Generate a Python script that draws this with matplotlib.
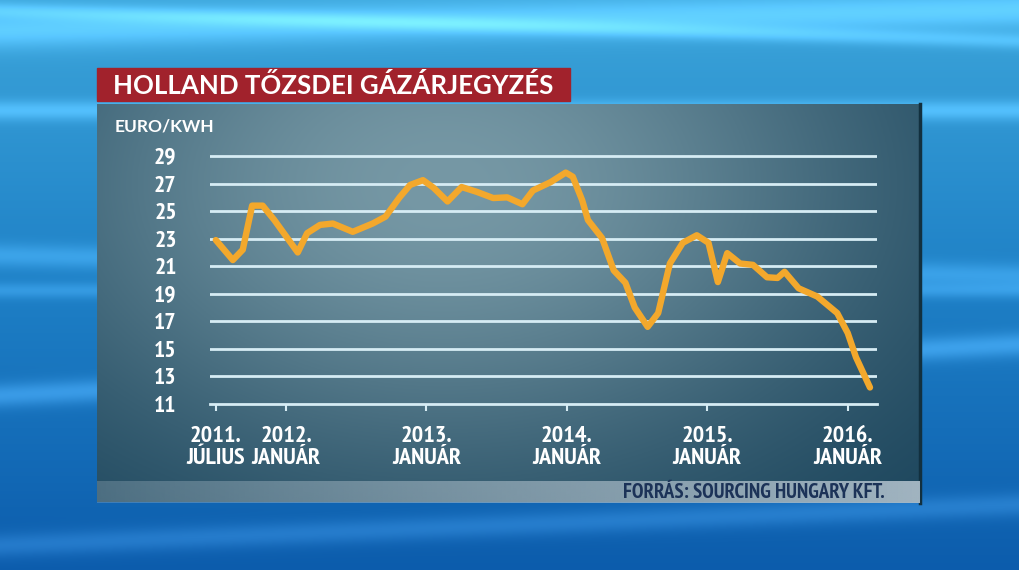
import matplotlib
matplotlib.use("Agg")
import matplotlib.pyplot as plt
import numpy as np

# data: months after 2011 July, price in euro/kWh
months = [0, 1.45, 2.3, 3.1, 4.0, 5.0, 7.0, 7.8, 8.9, 10.0, 11.7, 13.4, 14.5, 15.7,
          16.6, 17.7, 18.6, 19.8, 21.0, 22.3, 23.7, 24.9, 26.2, 27.1, 28.6, 29.9,
          30.5, 31.3, 31.8, 33.0, 34.0, 35.0, 35.8, 36.9, 37.8, 38.8, 39.9, 41.1,
          42.1, 42.9, 43.7, 44.8, 45.9, 47.1, 48.0, 48.6, 49.8, 51.4, 53.1, 54.0,
          54.7, 55.9]
price = [22.9, 21.45, 22.2, 25.4, 25.4, 24.35, 22.0, 23.4, 24.0, 24.1, 23.5, 24.1,
         24.6, 26.0, 26.9, 27.25, 26.7, 25.7, 26.75, 26.4, 25.95, 26.0, 25.5, 26.5,
         27.1, 27.8, 27.5, 25.8, 24.35, 23.05, 20.7, 19.8, 18.0, 16.6, 17.6, 21.2,
         22.7, 23.25, 22.7, 19.85, 21.95, 21.2, 21.1, 20.2, 20.15, 20.6, 19.4, 18.8,
         17.6, 16.15, 14.4, 12.2]

tick_months = [0, 6, 18, 30, 42, 54]
tick_labels = ["2011.\nJÚLIUS", "2012.\nJANUÁR", "2013.\nJANUÁR",
               "2014.\nJANUÁR", "2015.\nJANUÁR", "2016.\nJANUÁR"]
y_ticks = [11, 13, 15, 17, 19, 21, 23, 25, 27, 29]

title = "HOLLAND TŐZSDEI GÁZÁRJEGYZÉS"
unit = "EURO/KWH"
source = "FORRÁS: SOURCING HUNGARY KFT."

W, H = 1019, 570
narrow = ["PT Sans Narrow", "Roboto Condensed", "Fira Sans Condensed",
          "Archivo Narrow", "DejaVu Sans"]
head = ["Lato", "DejaVu Sans"]

fig = plt.figure(figsize=(W / 100, H / 100), dpi=100)

# backdrop, drawn in pixel coordinates
bg = fig.add_axes([0, 0, 1, 1])
bg.set_xlim(0, W)
bg.set_ylim(H, 0)
bg.axis("off")

yy, xx = np.mgrid[0:H, 0:W].astype(float)
t = yy / H
top = np.array([60, 165, 218]) / 255
mid = np.array([30, 128, 198]) / 255
bot = np.array([12, 92, 172]) / 255
img = np.where(t[..., None] < 0.5,
               top + (mid - top) * (t[..., None] / 0.5),
               mid + (bot - mid) * ((t[..., None] - 0.5) / 0.5))
streaks = [(30, -0.02, 18, 0.2), (110, 0.0, 10, 0.18), (395, -0.05, 12, 0.18),
           (255, 0.02, 12, 0.14), (290, 0.0, 8, 0.12), (545, -0.04, 12, 0.12),
           (10, 0.03, 8, 0.15)]
glow = np.zeros((H, W))
for y0, slope, width, amp in streaks:
    glow += amp * np.exp(-((yy - (y0 + slope * xx)) / width) ** 2)
img = np.clip(img + glow[..., None] * np.array([0.75, 0.88, 0.92]), 0, 1)
bg.imshow(img, extent=(0, W, H, 0), aspect="auto", zorder=0)

# dark glass panel
ph, pw = 200, 400
v, u = np.mgrid[0:ph, 0:pw].astype(float)
u /= pw
v /= ph
light = np.array([118, 152, 165]) / 255
dark = np.array([20, 62, 86]) / 255
w = np.exp(-(((u - 0.42) / 0.55) ** 2 + ((v - 0.2) / 0.75) ** 2))
panel = dark + (light - dark) * w[..., None]
bg.imshow(panel, extent=(97, 920, 502, 104), aspect="auto", zorder=1)
bg.plot([920, 920], [104, 503], color="#12303f", lw=2.5, zorder=2)

# source strip
sh, sw = 10, 300
s = np.linspace(0, 1, sw)
strip = np.zeros((sh, sw, 4))
strip[..., :3] = np.array([168, 186, 198]) / 255
strip[..., 3] = 0.3 + 0.65 * s[None, :]
bg.imshow(strip, extent=(97, 920, 503, 481), aspect="auto", zorder=2)
bg.text(885, 493, source, ha="right", va="center", fontsize=15,
        fontweight="bold", color="#1c3358", family=narrow, zorder=3)

# red title bar
bg.add_patch(plt.Rectangle((97, 68), 473, 33, color="#a1222c", zorder=2))
bg.text(113, 86, title, ha="left", va="center", fontsize=18.6,
        fontweight="bold", color="white", family=head, zorder=3)

bg.text(115, 127, unit, ha="left", va="center", fontsize=12.5,
        fontweight="bold", color="white", family=head, zorder=3)

# chart
ax = fig.add_axes([210 / W, 1 - 404 / H, (877 - 210) / W, (404 - 151.9) / H])
ax.set_facecolor("none")
ax.set_xlim(-0.5, 56.5)
ax.set_ylim(11, 29.3)
for val in y_ticks[1:]:
    ax.axhline(val, color="#d6ecf4", lw=2.0, zorder=1)
ax.plot(months, price, color="#f3a82c", lw=4.6, solid_joinstyle="round",
        solid_capstyle="round", zorder=3, clip_on=False)

for side in ["top", "right", "left"]:
    ax.spines[side].set_visible(False)
ax.spines["bottom"].set_color("#d6ecf4")
ax.spines["bottom"].set_linewidth(2.0)

ax.set_yticks(y_ticks)
ax.set_yticklabels([str(v) for v in y_ticks])
ax.set_xticks(tick_months)
ax.set_xticklabels(tick_labels, linespacing=1.05)
ax.tick_params(axis="y", length=0, pad=24, labelsize=17, labelcolor="white")
ax.tick_params(axis="x", length=5, width=1.5, color="#d6ecf4", pad=11,
               labelsize=17.5, labelcolor="white")
for lab in ax.get_xticklabels() + ax.get_yticklabels():
    lab.set_family(narrow)
    lab.set_fontweight("bold")

fig.savefig("out.png", dpi=100)
